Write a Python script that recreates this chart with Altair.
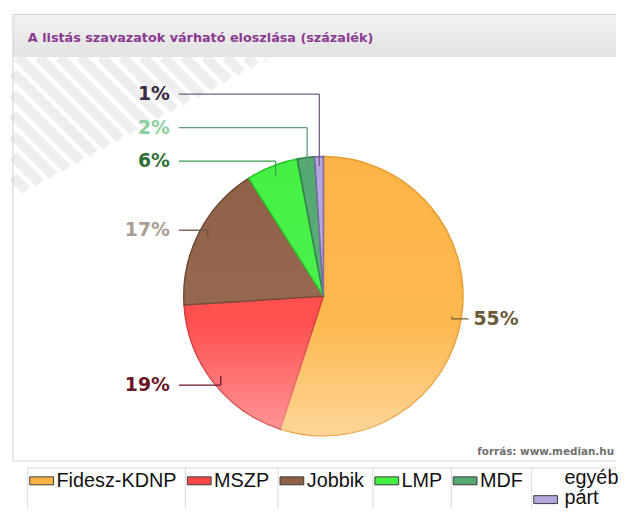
import math
import altair as alt
import pandas as pd

# ---------------- data ----------------
parties = ["Fidesz-KDNP", "MSZP", "Jobbik", "LMP", "MDF", "egyéb párt"]
shares = [55, 19, 17, 6, 2, 1]
label_texts = ["55%", "19%", "17%", "6%", "2%", "1%"]
title_text = "A listás szavazatok várható eloszlása (százalék)"
source_text = "forrás: www.median.hu"

# ---------------- styles ----------------
pie_fill = ["#fdb445", "#ff4646", "#8f6046", "#44f044", "#55a870", "#b4a6dc"]
pie_edge = ["#e89a2e", "#d93434", "#6e4630", "#26c526", "#2f7d4c", "#7a66a8"]
label_col = ["#6a5a38", "#6b1629", "#ab9c94", "#2f6e37", "#8ccf9f", "#3b2a41"]
line_col = ["#7a6038", "#6b1629", "#6e5040", "#3f9a55", "#5f9a7c", "#6f5f82"]
legend_fill = ["#f3a52f", "#e8262a", "#6f4426", "#2bef2b", "#2f8f52", "#9c52aa"]

W = 611
H1 = 456
H2 = 47
R = 141.0
CX, CY = 315.5, 288.5

xs = alt.Scale(domain=[-CX / R, (W - CX) / R], nice=False, zero=False)
ys = alt.Scale(domain=[-(H1 - CY) / R, CY / R], nice=False, zero=False)


def to_unit(px, py):
    return (px - CX) / R, (CY - py) / R


# ---------------- pie ----------------
pie_df = pd.DataFrame({"party": parties, "share": shares,
                       "order": list(range(len(parties))),
                       "cx": 0.0, "cy": 0.0})

pie = alt.Chart(pie_df).mark_arc(outerRadius=R, strokeWidth=1.5).encode(
    x=alt.X("cx:Q", scale=xs, axis=None),
    y=alt.Y("cy:Q", scale=ys, axis=None),
    theta=alt.Theta("share:Q", stack=True),
    order=alt.Order("order:Q"),
    fill=alt.Fill("party:N", scale=alt.Scale(domain=parties, range=pie_fill), legend=None),
    stroke=alt.Stroke("party:N", scale=alt.Scale(domain=parties, range=pie_edge), legend=None),
)

gloss = alt.Chart(pd.DataFrame({"cx": [0.0], "cy": [0.0]})).mark_arc(
    outerRadius=R, theta=0, theta2=2 * math.pi, strokeWidth=0,
    fill=alt.LinearGradient(
        gradient="linear", x1=0, y1=0, x2=0, y2=1,
        stops=[alt.GradientStop(color="rgba(255,255,255,0)", offset=0),
               alt.GradientStop(color="rgba(255,255,255,0.06)", offset=0.6),
               alt.GradientStop(color="rgba(255,255,255,0.45)", offset=1)]),
).encode(x=alt.X("cx:Q", scale=xs, axis=None), y=alt.Y("cy:Q", scale=ys, axis=None))

# ---------------- label layout (computed from slice geometry) ----------------
total = float(sum(shares))
rows = []
cum = 0.0
for i, (p, v, t) in enumerate(zip(parties, shares, label_texts)):
    mid = (cum + v / 2.0) / total
    cum += v
    a = 2 * math.pi * mid
    rows.append({"party": p, "text": t, "ux": math.sin(a), "uy": math.cos(a),
                 "tcol": label_col[i], "lcol": line_col[i]})

GAP = 0.24
left = sorted([r for r in rows if r["ux"] < 0], key=lambda r: r["uy"])
prev = -10
for r in left:
    r["ly"] = max(1.04 * r["uy"], prev + GAP)
    prev = r["ly"]
for r in rows:
    if r["ux"] >= 0:
        r["ly"] = 1.04 * r["uy"]
    r["ax"] = 0.93 * r["ux"]
    r["ay"] = 0.93 * r["uy"]
    r["side"] = "L" if r["ux"] < 0 else "R"
    r["ex"] = -1.035 if r["ux"] < 0 else 1.04
    r["tx"] = -1.10 if r["ux"] < 0 else 1.075

seg = []
for r in rows:
    seg.append({"x": r["ax"], "y": r["ay"], "x2": r["ax"], "y2": r["ly"], "lcol": r["lcol"]})
    seg.append({"x": r["ax"], "y": r["ly"], "x2": r["ex"], "y2": r["ly"], "lcol": r["lcol"]})
seg_df = pd.DataFrame(seg)
lab_df = pd.DataFrame(rows)

lines = alt.Chart(seg_df).mark_rule(strokeWidth=1.3).encode(
    x=alt.X("x:Q", scale=xs, axis=None), y=alt.Y("y:Q", scale=ys, axis=None),
    x2="x2:Q", y2="y2:Q",
    color=alt.Color("lcol:N", scale=None),
)

lab_base = alt.Chart(lab_df)
lab_left = lab_base.transform_filter(alt.datum.side == "L").mark_text(
    align="right", baseline="middle", font="DejaVu Sans", fontSize=19, fontWeight="bold"
).encode(x=alt.X("tx:Q", scale=xs, axis=None), y=alt.Y("ly:Q", scale=ys, axis=None),
         text="text:N", color=alt.Color("tcol:N", scale=None))
lab_right = lab_base.transform_filter(alt.datum.side == "R").mark_text(
    align="left", baseline="middle", font="DejaVu Sans", fontSize=19, fontWeight="bold"
).encode(x=alt.X("tx:Q", scale=xs, axis=None), y=alt.Y("ly:Q", scale=ys, axis=None),
         text="text:N", color=alt.Color("tcol:N", scale=None))

# ---------------- panel decoration ----------------
one = pd.DataFrame({"a": [0]})
panel = alt.Chart(one).mark_rect(fill="white").encode(
    x=alt.value(2), x2=alt.value(W), y=alt.value(4), y2=alt.value(455))
header = alt.Chart(one).mark_rect(
    fill=alt.LinearGradient(gradient="linear", x1=0, y1=0, x2=0, y2=1,
                            stops=[alt.GradientStop(color="#f2f2f2", offset=0),
                                   alt.GradientStop(color="#e2e2e2", offset=1)])
).encode(x=alt.value(2), x2=alt.value(W), y=alt.value(4), y2=alt.value(47))
b_left = alt.Chart(one).mark_rule(color="#d0d0d0").encode(x=alt.value(2), y=alt.value(4), y2=alt.value(455))
b_top = alt.Chart(one).mark_rule(color="#d0d0d0").encode(y=alt.value(4), x=alt.value(2), x2=alt.value(W))
b_bot = alt.Chart(one).mark_rule(color="#d8d8d8").encode(y=alt.value(455), x=alt.value(2), x2=alt.value(W))
title = alt.Chart(one).mark_text(
    text=title_text, align="left", baseline="alphabetic", font="DejaVu Sans",
    fontSize=12.9, fontWeight="bold", color="#8a3a90"
).encode(x=alt.value(17), y=alt.value(32))
source = alt.Chart(one).mark_text(
    text=source_text, align="right", baseline="alphabetic", font="DejaVu Sans",
    fontSize=10.5, fontWeight="bold", color="#707070"
).encode(x=alt.value(W - 2), y=alt.value(449))

# faint diagonal hatching in the top-left corner of the panel body (decoration)
hx0, hy0 = 2.0, 47.0          # corner of the hatched area (pixels)
hw, hh = 260.0, 142.0         # extent along the top and the left edge
stripes = []
c = hx0 - hy0 - hh
k = 0
while c < hx0 + hw - hy0:
    ys_ = max(hy0, hx0 - c)
    xs_ = ys_ + c
    ye = (1 + (hx0 - c) / hw + hy0 / hh) / (1 / hw + 1 / hh)
    xe = ye + c
    if ye > ys_:
        ux1, uy1 = to_unit(xs_, ys_)
        ux2, uy2 = to_unit(xe, ye)
        stripes.append({"k": k, "x": ux1, "y": uy1, "x2": ux2, "y2": uy2})
        k += 1
    c += 21
hatch = alt.Chart(pd.DataFrame(stripes)).mark_rule(
    color="#eeeeee", strokeWidth=10, strokeCap="butt"
).encode(x=alt.X("x:Q", scale=xs, axis=None), y=alt.Y("y:Q", scale=ys, axis=None),
         x2="x2:Q", y2="y2:Q", detail="k:N")

main = alt.layer(panel, hatch, header, b_left, b_top, b_bot, title, source,
                 pie, gloss, lines, lab_left, lab_right).properties(width=W, height=H1)

# ---------------- legend (layout computed from label widths) ----------------
ARIAL = {"a": 556, "b": 556, "c": 500, "d": 556, "e": 556, "f": 278, "g": 556, "h": 556,
         "i": 222, "j": 222, "k": 500, "l": 222, "m": 833, "n": 556, "o": 556, "p": 556,
         "r": 333, "s": 500, "t": 278, "u": 556, "v": 500, "w": 722, "y": 500, "z": 500,
         "é": 556, "á": 556, "D": 722, "F": 611, "J": 500, "K": 667, "L": 556, "M": 833,
         "N": 722, "P": 667, "S": 667, "Z": 611, "-": 333, " ": 278}
LFS = 20
LLH = 20


def tw(s):
    return sum(ARIAL.get(ch, 556) for ch in s) * LFS / 1000.0


leg_rows = []
divs = []
x0 = 17
for i, p in enumerate(parties):
    lines_ = p.split(" ")
    n = len(lines_)
    w = max(tw(s) for s in lines_)
    cw = 28 + w + 10
    sy = 15 if n == 1 else 34
    leg_rows.append({"party": p, "lines": lines_, "sx": x0 + 2, "sx2": x0 + 26,
                     "sy": sy, "sy2": sy + 8, "tx": x0 + (29 if n == 1 else 33),
                     "ty": 25 if n == 1 else 22})
    x0 += cw
    if x0 < W:
        divs.append({"dx": x0})
leg_df = pd.DataFrame(leg_rows)
div_df = pd.DataFrame(divs)

sym = alt.Chart(leg_df).mark_rect(stroke="#3a3a3a", strokeWidth=1).encode(
    x=alt.X("sx:Q", scale=None), x2="sx2:Q", y=alt.Y("sy:Q", scale=None), y2="sy2:Q",
    fill=alt.Fill("party:N", scale=alt.Scale(domain=parties, range=legend_fill), legend=None))
ltxt = alt.Chart(leg_df).mark_text(
    align="left", baseline="alphabetic", font="Liberation Sans", fontSize=LFS,
    lineHeight=LLH, color="#111111"
).encode(x=alt.X("tx:Q", scale=None), y=alt.Y("ty:Q", scale=None), text="lines")
ldiv = alt.Chart(div_df).mark_rule(color="#d9d9d9").encode(
    x=alt.X("dx:Q", scale=None), y=alt.value(6), y2=alt.value(H2))
lleft = alt.Chart(one).mark_rule(color="#d9d9d9").encode(x=alt.value(17), y=alt.value(6), y2=alt.value(H2))
ltop = alt.Chart(one).mark_rule(color="#d9d9d9").encode(y=alt.value(6), x=alt.value(17), x2=alt.value(W))

legend = alt.layer(ltop, lleft, ldiv, sym, ltxt).properties(width=W, height=H2)

chart = alt.vconcat(main, legend, spacing=0).properties(padding=0).configure_view(stroke=None)

chart.save("out.html", embed_options={"renderer": "svg", "actions": False})
